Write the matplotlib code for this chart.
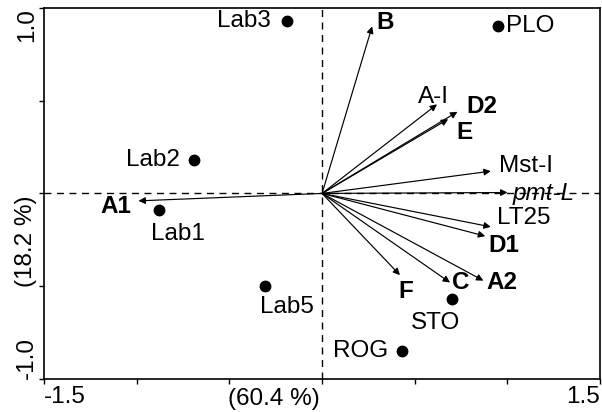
"""
Biplot of the first two principal components: sample scores as dots,
variable loadings as arrows from the origin.
"""

import matplotlib.pyplot as plt
from matplotlib.transforms import blended_transform_factory

plt.rcParams["font.family"] = ["Liberation Sans", "DejaVu Sans"]

# ------------------------------------------------------------
# Sample scores (PC1, PC2)
# ------------------------------------------------------------
sample_names = ["Lab3", "PLO", "Lab2", "Lab1", "Lab5", "STO", "ROG"]
sample_x = [-0.19, 0.95, -0.69, -0.88, -0.31, 0.70, 0.43]
sample_y = [0.93, 0.90, 0.18, -0.09, -0.50, -0.57, -0.85]
# label centre for each sample
sample_lx = [-0.42, 1.12, -0.91, -0.78, -0.19, 0.61, 0.21]
sample_ly = [0.93, 0.90, 0.18, -0.22, -0.61, -0.70, -0.85]

# ------------------------------------------------------------
# Variable loadings (arrow tips)
# ------------------------------------------------------------
var_names = ["B", "A-I", "D2", "E", "Mst-I", "pmt-L", "A1",
             "LT25", "D1", "F", "C", "A2"]
var_x = [0.27, 0.62, 0.73, 0.68, 0.91, 1.00, -0.99,
         0.91, 0.88, 0.42, 0.69, 0.87]
var_y = [0.90, 0.48, 0.44, 0.40, 0.12, 0.005, -0.04,
         -0.18, -0.23, -0.44, -0.48, -0.47]
var_lx = [0.34, 0.60, 0.86, 0.77, 1.10, 1.195, -1.11,
          1.09, 0.98, 0.45, 0.75, 0.97]
var_ly = [0.92, 0.52, 0.47, 0.33, 0.15, 0.0, -0.07,
          -0.13, -0.28, -0.53, -0.48, -0.48]
var_style = ["bold", "normal", "bold", "bold", "normal", "italic", "bold",
             "normal", "bold", "bold", "bold", "bold"]

FONT_SIZE = 17.5


def main() -> None:
    fig = plt.figure(figsize=(6.02, 4.12), dpi=100)
    ax = fig.add_axes([0.073, 0.080, 0.924, 0.901])

    ax.set_xlim(-1.5, 1.5)
    ax.set_ylim(-1.0, 1.0)

    ax.axhline(0, color="black", lw=1.0, ls=(0, (5, 4)), zorder=1)
    ax.axvline(0, color="black", lw=1.0, ls=(0, (5, 4)), zorder=1)

    # loadings
    for name, x, y, lx, ly, style in zip(var_names, var_x, var_y,
                                         var_lx, var_ly, var_style):
        ax.annotate("", xy=(x, y), xytext=(0, 0),
                    arrowprops=dict(arrowstyle="-|>", color="black",
                                    lw=0.85, mutation_scale=10,
                                    shrinkA=0, shrinkB=0))
        kw = {}
        if style == "bold":
            kw = {"fontweight": "bold"}
        elif style == "italic":
            kw = {"fontstyle": "italic"}
        ax.text(lx, ly, name, fontsize=FONT_SIZE, ha="center", va="center", **kw)

    # scores
    ax.plot(sample_x, sample_y, "o", color="black", ms=7.5, zorder=3)
    for name, lx, ly in zip(sample_names, sample_lx, sample_ly):
        ax.text(lx, ly, name, fontsize=FONT_SIZE, ha="center", va="center")

    # ticks: only the extreme values are labelled
    ax.set_xticks([-1.5, -1.0, -0.5, 0.0, 0.5, 1.0, 1.5])
    ax.set_xticklabels(["-1.5", "", "", "", "", "", "1.5"])
    ax.set_yticks([-1.0, -0.5, 0.0, 0.5, 1.0])
    ax.set_yticklabels(["-1.0", "", "", "", "1.0"], rotation=90)
    ax.tick_params(direction="out", length=3.5, width=1.0, labelsize=FONT_SIZE)
    ax.tick_params(axis="x", pad=1.5)
    ax.tick_params(axis="y", pad=1)

    xt = ax.get_xticklabels()
    xt[0].set_ha("left")
    xt[-1].set_ha("right")
    yt = ax.get_yticklabels()
    yt[0].set_va("bottom")
    yt[-1].set_va("top")

    # axis titles sit just before the origin lines
    xtrans = blended_transform_factory(ax.transData, ax.transAxes)
    ax.text(-0.015, -0.023, "(60.4 %)", transform=xtrans, fontsize=FONT_SIZE,
            ha="right", va="top")
    ytrans = blended_transform_factory(ax.transAxes, ax.transData)
    ax.text(-0.013, -0.01, "(18.2 %)", transform=ytrans, fontsize=FONT_SIZE,
            ha="right", va="top", rotation=90)

    for spine in ax.spines.values():
        spine.set_linewidth(1.2)

    fig.savefig("out.png", dpi=100)


if __name__ == "__main__":
    main()
